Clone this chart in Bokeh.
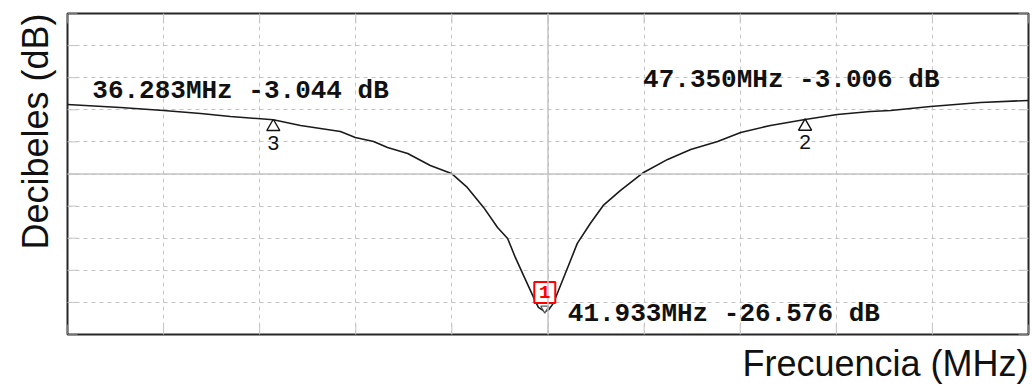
import numpy as np
from bokeh.plotting import figure
from bokeh.models import Label, Span, FixedTicker, Title
from bokeh.embed import file_html
from bokeh.resources import INLINE

# ---- data ----
freq_mhz = [32.00, 33.10, 34.00, 34.77, 35.39, 36.283, 36.85, 37.68, 37.99, 38.37,
            38.66, 39.08, 39.55, 39.99, 40.32, 40.66, 40.95, 41.16, 41.32, 41.49,
            41.70, 41.80, 41.933, 42.01, 42.11, 42.16, 42.41, 42.61, 42.88, 43.15,
            43.51, 43.99, 44.49, 44.97, 45.53, 46.01, 46.63, 47.350, 48.02, 48.71,
            49.13, 49.96, 51.00, 52.00]
gain_db = [-1.17, -1.53, -1.90, -2.27, -2.64, -3.044, -3.74, -4.48, -5.21, -5.71,
           -6.44, -7.18, -8.65, -9.63, -11.35, -13.80, -16.26, -17.61, -19.94, -22.15,
           -24.85, -26.07, -26.576, -26.40, -25.58, -24.85, -21.17, -18.22, -15.77, -13.56,
           -11.72, -9.51, -7.91, -6.69, -5.71, -4.60, -3.74, -3.006, -2.39, -2.02,
           -1.90, -1.41, -0.92, -0.67]

marker_ids = ["1", "2", "3"]
marker_freq = [41.933, 47.350, 36.283]
marker_db = [-26.576, -3.006, -3.044]

x_label = "Frecuencia (MHz)"
y_label = "Decibeles (dB)"

# ---- layout ----
W, H = 1032, 390
ML, MR, MT, MB = 67, 4, 13, 56
FW, FH = W - ML - MR, H - MT - MB
x_lo, x_hi = 32.0, 52.0
y_lo, y_hi = -29.4, 10.0
xt = list(np.linspace(x_lo, x_hi, 11))
yt = list(np.linspace(y_lo, y_hi, 11))
dx_px = (x_hi - x_lo) / FW   # data units per pixel
dy_px = (y_hi - y_lo) / FH

p = figure(width=W, height=H, x_range=(x_lo, x_hi), y_range=(y_lo, y_hi),
           output_backend="svg", toolbar_location=None,
           x_axis_location=None, y_axis_location=None,
           min_border_left=ML, min_border_right=MR, min_border_top=MT, min_border_bottom=MB)
p.background_fill_color = "white"
p.border_fill_color = "white"
p.outline_line_color = "#262626"
p.outline_line_width = 2

grid_col = "#c4c4c4"
for g, t in ((p.xgrid, xt), (p.ygrid, yt)):
    g.ticker = FixedTicker(ticks=t)
    g.grid_line_color = grid_col
    g.grid_line_dash = "4 4"
    g.grid_line_width = 1

# axis titles
def axis_title(text, standoff):
    return Title(text=text, align="right", vertical_align="bottom", standoff=standoff, offset=0,
                 text_font="Liberation Sans", text_font_size="36px",
                 text_font_style="normal", text_color="#111111")

p.add_layout(axis_title(x_label, 12), "below")
p.add_layout(axis_title(y_label, 24), "left")

# inward tick marks on all four sides
tk = 10
p.segment(x0=xt, y0=[y_hi] * len(xt), x1=xt, y1=[y_hi - tk * dy_px] * len(xt),
          line_color=grid_col, line_width=1)
p.segment(x0=xt, y0=[y_lo] * len(xt), x1=xt, y1=[y_lo + tk * dy_px] * len(xt),
          line_color=grid_col, line_width=1)
p.segment(x0=[x_lo] * len(yt), y0=yt, x1=[x_lo + tk * dx_px] * len(yt), y1=yt,
          line_color=grid_col, line_width=1)
p.segment(x0=[x_hi] * len(yt), y0=yt, x1=[x_hi - tk * dx_px] * len(yt), y1=yt,
          line_color=grid_col, line_width=1)

p.add_layout(Span(location=(x_lo + x_hi) / 2, dimension="height", line_color=grid_col, line_width=1.5))
p.add_layout(Span(location=(y_lo + y_hi) / 2, dimension="width", line_color=grid_col, line_width=1.5))

p.line(freq_mhz, gain_db, line_color="#1a1a1a", line_width=1.6)

mono = "Liberation Mono"
lbl_offsets = {"1": (23, -3), "2": (-162, 39), "3": (-181, 29)}
for mid, f, d in zip(marker_ids, marker_freq, marker_db):
    ox, oy = lbl_offsets[mid]
    p.add_layout(Label(x=f, y=d, x_offset=ox, y_offset=oy,
                       text=f"{f:.3f}MHz {d:.3f} dB", text_font=mono, text_font_style="bold",
                       text_font_size="26px", text_color="#111111",
                       text_align="left", text_baseline="alphabetic"))
    if mid == "1":
        p.scatter([f], [d + 3 * dy_px], marker="inverted_triangle", size=8, line_color="#555555",
                  fill_color="white", line_width=1.2)
        p.scatter([f], [d + 19 * dy_px], marker="square", size=21, line_color="red",
                  fill_color="white", line_width=2)
        p.add_layout(Label(x=f, y=d, y_offset=19, text=mid, text_font=mono,
                           text_font_style="bold", text_font_size="19px", text_color="red",
                           text_align="center", text_baseline="middle"))
    else:
        p.scatter([f], [d - 7 * dy_px], marker="triangle", size=13, line_color="#111111",
                  fill_color="white", line_width=1.4)
        p.add_layout(Label(x=f, y=d, y_offset=-23, text=mid, text_font="Liberation Sans",
                           text_font_size="21px", text_color="#111111",
                           text_align="center", text_baseline="alphabetic"))

open("out.html", "w").write(file_html(p, INLINE))
